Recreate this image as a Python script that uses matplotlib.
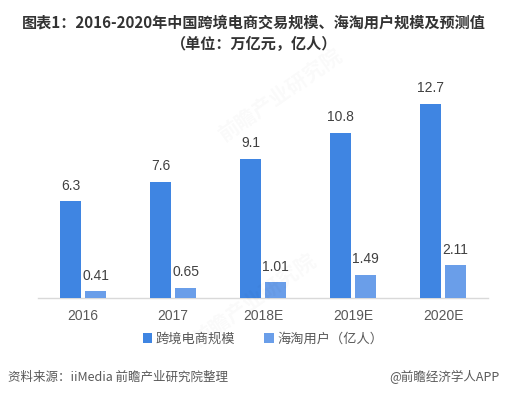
import matplotlib
matplotlib.use("Agg")
import matplotlib.pyplot as plt
import numpy as np

plt.rcParams['font.family'] = ['Noto Sans CJK SC', 'DejaVu Sans']

categories = ['2016', '2017', '2018E', '2019E', '2020E']
trade_scale = [6.3, 7.6, 9.1, 10.8, 12.7]
users = [0.41, 0.65, 1.01, 1.49, 2.11]
user_labels = ['0.41', '0.65', '1.01', '1.49', '2.11']
series_names = ['跨境电商规模', '海淘用户（亿人）']

c1 = '#3F85E2'
c2 = '#6A9EE9'
num_font = ['Liberation Sans', 'DejaVu Sans']

fig = plt.figure(figsize=(5.08, 3.95), dpi=100)
ax = fig.add_axes([38/508, (395-297.5)/395, 450/508, 14*15.25/395])

# faint watermarks
for (x, y) in [(0.55, 0.76), (0.50, 0.24)]:
    fig.text(x, y, '前瞻产业研究院', fontsize=15, color='#000000', alpha=0.025,
             rotation=35, ha='center', va='center', fontweight='bold')

x = np.arange(len(categories))
w = 0.23
off = 0.14
b1 = ax.bar(x - off, trade_scale, w, color=c1, label=series_names[0], zorder=3)
b2 = ax.bar(x + off, users, w, color=c2, label=series_names[1], zorder=3)

for xi, v in zip(x, trade_scale):
    ax.text(xi - off, v + 0.55, f'{v}', ha='center', va='bottom', fontsize=10, color='#404040',
            family=num_font)
for xi, v, s in zip(x, users, user_labels):
    ax.text(xi + off, v + 0.55, s, ha='center', va='bottom', fontsize=10, color='#404040',
            family=num_font)

ax.set_xlim(-0.5, len(categories) - 0.5)
ax.set_ylim(0, 14)
ax.set_xticks(x)
ax.set_xticklabels(categories, fontsize=10, color='#595959', family=num_font)
ax.tick_params(axis='x', length=0, pad=8)
ax.set_yticks([])
for s in ['top', 'right', 'left']:
    ax.spines[s].set_visible(False)
ax.spines['bottom'].set_color('#D9D9D9')
ax.spines['bottom'].set_linewidth(1)

leg = fig.legend(handles=[b1, b2], labels=series_names, loc='center',
                 bbox_to_anchor=(263/508, 1 - 339/395), ncol=2, frameon=False,
                 fontsize=9.5, handlelength=0.7, handleheight=0.7, columnspacing=2.2,
                 handletextpad=0.3)
for t in leg.get_texts():
    t.set_color('#595959')

fig.text(0.5, 1 - 23/395, '图表1：2016-2020年中国跨境电商交易规模、海淘用户规模及预测值',
         ha='center', va='center', fontsize=10.9, fontweight='bold', color='#333333')
fig.text(0.5, 1 - 44/395, '（单位：万亿元，亿人）',
         ha='center', va='center', fontsize=10.9, fontweight='bold', color='#333333')

fig.text(8/508, 1 - 377/395, '资料来源：iiMedia 前瞻产业研究院整理', ha='left', va='center',
         fontsize=9, color='#595959', style='italic')
fig.text(500/508, 1 - 377/395, '@前瞻经济学人APP', ha='right', va='center',
         fontsize=9, color='#595959')

fig.savefig('out.png', dpi=100)
